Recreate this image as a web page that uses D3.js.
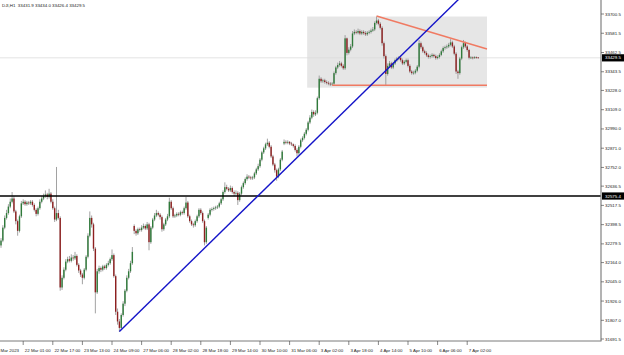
<!DOCTYPE html>
<html><head><meta charset="utf-8">
<script src="https://cdn.jsdelivr.net/npm/d3@7"></script>
<style>body{margin:0;background:#fff;}svg{display:block}</style>
</head><body><svg id="c" width="624" height="355"></svg>
<script>
const title = "DJI,H1  33431.9 33434.0 33426.4 33429.5";
const firstOpen = 32270;
const gapOpens = {72: 32390, 112: 32440, 153: 32900};
const closes = [
32300,32380,32440,32470,32510,32540,32560,32480,32420,32360,32450,32530,32540,32525,32535,32530,
32540,32520,32490,32465,32500,32540,32560,32575,32585,32570,32590,32540,32500,32430,32470,32440,
32010,32070,32120,32170,32185,32175,32195,32190,32205,32150,32115,32090,32070,32120,32200,32330,
32440,32400,32250,31980,32110,32130,32120,32140,32130,32150,32160,32185,32210,32080,31860,31800,
31760,31840,31910,31990,32070,32110,32160,32230,32360,32345,32370,32365,32380,32390,32375,32400,
32290,32380,32430,32455,32470,32460,32445,32370,32400,32430,32450,32540,32500,32450,32455,32465,
32460,32475,32470,32500,32535,32450,32420,32400,32395,32420,32450,32490,32470,32420,32290,32380,
32460,32490,32495,32500,32505,32510,32530,32555,32600,32630,32620,32610,32625,32600,32590,32595,
32550,32590,32630,32655,32680,32695,32690,32685,32690,32715,32740,32760,32800,32845,32870,32895,
32905,32880,32820,32770,32735,32695,32740,32800,32850,32910,32905,32910,32900,32895,32885,32860,
32840,32880,32920,32935,32960,32985,33030,33060,33095,33080,33090,33180,33300,33285,33290,33280,
33275,33270,33268,33270,33335,33370,33385,33395,33380,33365,33550,33460,33480,33500,33580,33590,
33585,33595,33580,33590,33582,33575,33585,33590,33598,33605,33645,33660,33640,33615,33520,33440,
33330,33380,33395,33370,33395,33415,33425,33430,33415,33395,33405,33415,33380,33345,33335,33338,
33350,33375,33520,33495,33470,33460,33445,33435,33440,33448,33440,33428,33435,33448,33470,33490,
33495,33500,33510,33525,33500,33455,33345,33335,33425,33495,33520,33500,33478,33430,33432,33428,
33433,33431.9,33429.5];
const highs = [
32315,32395,32455,32490,32525,32560,32600,32575,32490,32430,32460,32545,32555,32550,32545,32545,
32550,32550,32530,32500,32510,32555,32575,32590,32610,32595,32620,32600,32555,32510,32755,32490,
32450,32085,32135,32185,32200,32205,32215,32210,32230,32215,32160,32125,32100,32130,32210,32345,
32480,32455,32410,32260,32125,32145,32140,32150,32150,32160,32175,32195,32245,32220,32090,31880,
31815,31850,31925,32000,32085,32125,32175,32260,32400,32370,32380,32380,32395,32405,32400,32415,
32410,32390,32440,32470,32490,32480,32470,32455,32410,32440,32465,32565,32550,32510,32465,32475,
32475,32485,32485,32510,32570,32545,32460,32430,32410,32430,32460,32500,32500,32480,32430,32390,
32470,32500,32505,32510,32515,32520,32540,32565,32610,32660,32645,32630,32640,32635,32610,32610,
32605,32600,32640,32665,32690,32710,32705,32700,32700,32725,32750,32775,32810,32855,32880,32905,
32930,32915,32890,32830,32780,32745,32750,32810,32860,32925,32920,32920,32915,32910,32900,32895,
32870,32890,32930,32945,32970,32995,33040,33075,33110,33105,33105,33190,33320,33310,33300,33300,
33290,33285,33280,33280,33345,33380,33400,33410,33405,33390,33570,33555,33495,33515,33595,33605,
33600,33610,33605,33600,33600,33595,33595,33600,33610,33620,33655,33685,33670,33650,33625,33530,
33450,33395,33410,33405,33405,33425,33435,33440,33440,33425,33415,33425,33425,33390,33355,33350,
33360,33385,33540,33530,33505,33480,33470,33455,33450,33458,33455,33450,33445,33458,33480,33500,
33505,33512,33522,33545,33535,33510,33465,33355,33435,33505,33540,33530,33510,33485,33440,33438,
33440,33438,33434.0];
const lows = [
32255,32290,32370,32430,32460,32500,32530,32470,32400,32330,32350,32440,32520,32515,32515,32520,
32520,32510,32480,32450,32455,32490,32530,32550,32565,32555,32560,32530,32490,32415,32420,32430,
31990,31995,32060,32110,32160,32165,32165,32175,32180,32140,32100,32075,32030,32060,32110,32190,
32320,32380,32235,31850,31970,32095,32105,32110,32120,32120,32140,32150,32175,32070,31840,31780,
31735,31750,31830,31895,31980,32060,32100,32150,32340,32330,32335,32355,32355,32370,32365,32365,
32240,32280,32370,32420,32445,32450,32430,32355,32360,32390,32420,32440,32490,32440,32440,32445,
32450,32450,32460,32460,32490,32440,32410,32390,32380,32385,32410,32440,32460,32410,32270,32280,
32430,32450,32480,32485,32490,32495,32500,32520,32545,32590,32610,32600,32600,32590,32575,32580,
32520,32540,32580,32620,32645,32670,32680,32675,32675,32680,32705,32730,32750,32790,32835,32860,
32885,32870,32810,32760,32720,32670,32685,32730,32790,32890,32895,32895,32890,32885,32875,32850,
32820,32830,32870,32910,32925,32950,32975,33020,33050,33065,33070,33080,33170,33275,33275,33270,
33265,33260,33255,33258,33262,33325,33360,33375,33370,33355,33355,33445,33450,33470,33490,33570,
33575,33575,33570,33570,33572,33565,33565,33575,33580,33590,33595,33635,33630,33605,33505,33425,
33262,33320,33370,33360,33360,33385,33405,33415,33405,33385,33385,33395,33370,33335,33325,33325,
33328,33340,33365,33485,33460,33450,33435,33425,33425,33430,33430,33418,33420,33425,33440,33460,
33480,33485,33490,33500,33490,33445,33330,33300,33325,33415,33485,33490,33468,33420,33422,33420,
33423,33425,33426.4];

const yTicks = [33700.5,33581.5,33462.5,33343.5,33228.0,33109.0,32990.0,32871.0,32752.0,32636.5,32517.5,32398.5,32279.5,32164.0,32045.0,31926.0,31807.0,31691.5];
const xTickLabels = ["Mar 2023","22 Mar 01:00","22 Mar 17:00","23 Mar 13:00","24 Mar 09:00","27 Mar 06:00","28 Mar 02:00","28 Mar 18:00","29 Mar 14:00","30 Mar 10:00","31 Mar 06:00","3 Apr 02:00","3 Apr 18:00","4 Apr 14:00","5 Apr 10:00","6 Apr 06:00","7 Apr 02:00"];
const xTickBars = [-4,12,28,44,60,76,92,108,124,140,156,172,188,204,220,236,252];

const currentPrice = 33429.5;
const supportLevel = 32575.4;
const boxBars = [165.5, 262.7];
const boxPrices = [33245, 33685];
const redFlat = [[179, 33260],[262.7, 33260]];
const redTrend = [[203, 33688],[262.7, 33484]];
const blueTrend = [[64, 31738],[256, 33888]];

const W = 624, H = 355, plotR = 601, plotB = 341;
const svg = d3.select("#c");
const x = d3.scaleLinear().domain([0, 258]).range([1, 478.3]);
const y = d3.scaleLinear().domain([31691.5, 33700.5]).range([339, 14]);
const FONT = "Liberation Sans, Arial, sans-serif";
const FS = 4.4;

const bars = closes.map((c, i) => ({
  i, c, h: highs[i], l: lows[i],
  o: i === 0 ? firstOpen : (gapOpens[i] !== undefined ? gapOpens[i] : closes[i - 1])
}));

svg.append("defs").append("clipPath").attr("id","pc")
  .append("rect").attr("x",0).attr("y",0).attr("width",plotR).attr("height",plotB);
const g = svg.append("g").attr("clip-path","url(#pc)");

g.append("rect")
  .attr("x", x(boxBars[0])).attr("width", x(boxBars[1]) - x(boxBars[0]))
  .attr("y", y(boxPrices[1])).attr("height", y(boxPrices[0]) - y(boxPrices[1]))
  .attr("fill", "#e6e6e6");

g.append("line").attr("x1",0).attr("x2",plotR)
  .attr("y1", y(currentPrice)).attr("y2", y(currentPrice))
  .attr("stroke","#dcdcdc").attr("stroke-width",0.8);

const cg = g.append("g");
cg.selectAll("line.w").data(bars).join("line").attr("class","w")
  .attr("x1", d => x(d.i)).attr("x2", d => x(d.i))
  .attr("y1", d => y(d.h)).attr("y2", d => y(d.l))
  .attr("stroke", "#979797").attr("stroke-width", 0.9);
cg.selectAll("rect.b").data(bars).join("rect").attr("class","b")
  .attr("x", d => x(d.i) - 0.7).attr("width", 1.4)
  .attr("y", d => y(Math.max(d.o, d.c)))
  .attr("height", d => Math.max(0.8, Math.abs(y(d.o) - y(d.c))))
  .attr("fill", d => d.c >= d.o ? "#2f7a3a" : "#8e2020");

g.append("line").attr("x1",0).attr("x2",plotR)
  .attr("y1", y(supportLevel)).attr("y2", y(supportLevel))
  .attr("stroke","#000").attr("stroke-width",1.4);

const ln = d3.line().x(d => x(d[0])).y(d => y(d[1]));
g.append("path").attr("d", ln(redFlat)).attr("stroke","#f07a62").attr("stroke-width",1.4).attr("fill","none");
g.append("path").attr("d", ln(redTrend)).attr("stroke","#f07a62").attr("stroke-width",1.4).attr("fill","none");
g.append("path").attr("d", ln(blueTrend)).attr("stroke","#1414c8").attr("stroke-width",1.4).attr("fill","none");

svg.append("line").attr("x1",0).attr("x2",plotR+0.5).attr("y1",plotB).attr("y2",plotB)
  .attr("stroke","#7a7a7a").attr("stroke-width",1);
svg.append("line").attr("x1",plotR).attr("x2",plotR).attr("y1",0).attr("y2",plotB)
  .attr("stroke","#8a8a8a").attr("stroke-width",1.3);

const ya = svg.append("g");
yTicks.forEach(v => {
  ya.append("line").attr("x1", plotR).attr("x2", plotR + 3).attr("y1", y(v)).attr("y2", y(v))
    .attr("stroke","#555").attr("stroke-width",0.7);
  ya.append("text").attr("x", plotR + 4).attr("y", y(v)).attr("dy","0.35em")
    .attr("font-family",FONT).attr("font-size",FS).attr("fill","#222").text(d3.format(".1f")(v));
});
[currentPrice, supportLevel].forEach(v => {
  ya.append("rect").attr("x", plotR + 1).attr("y", y(v) - 3.6).attr("width", 22).attr("height", 7.2).attr("fill","#000");
  ya.append("text").attr("x", plotR + 4).attr("y", y(v)).attr("dy","0.35em")
    .attr("font-family",FONT).attr("font-size",FS).attr("fill","#fff").text(d3.format(".1f")(v));
});

const xa = svg.append("g");
xTickBars.forEach((b, k) => {
  xa.append("line").attr("x1", x(b)).attr("x2", x(b)).attr("y1", plotB).attr("y2", plotB + 4)
    .attr("stroke","#555").attr("stroke-width",0.7);
  xa.append("text").attr("x", Math.max(0.5, x(b) + 1.6)).attr("y", 351.5)
    .attr("font-family",FONT).attr("font-size",FS).attr("fill","#222").text(xTickLabels[k]);
});

svg.append("text").attr("x", 2).attr("y", 6.5).attr("font-family",FONT).attr("font-size",FS)
  .attr("fill","#222").attr("xml:space","preserve").style("white-space","pre").text(title);
</script></body></html>
